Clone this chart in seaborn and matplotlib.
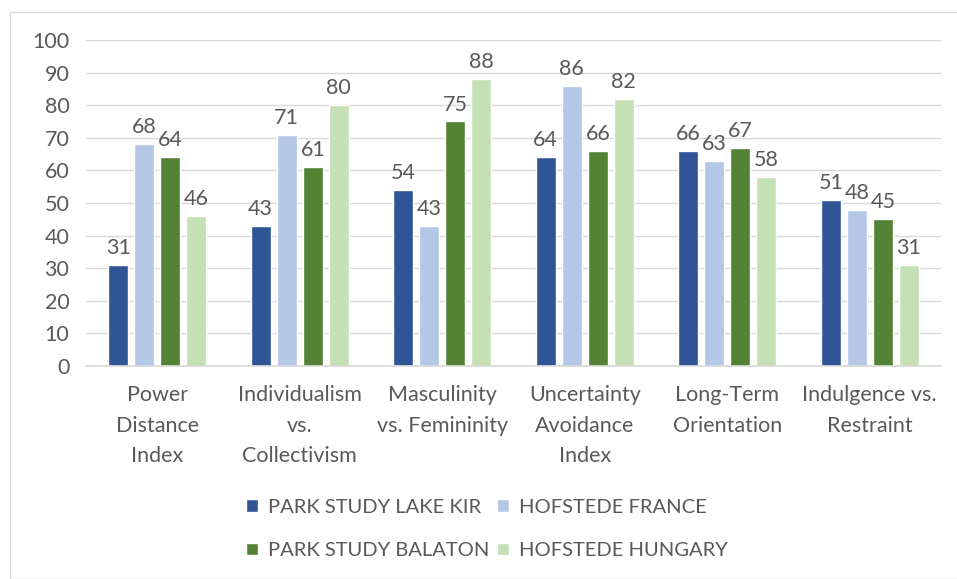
import matplotlib
matplotlib.use("Agg")
import matplotlib.pyplot as plt
import seaborn as sns
import pandas as pd
from matplotlib.patches import Rectangle

categories = ["Power\nDistance\nIndex", "Individualism\nvs.\nCollectivism",
              "Masculinity\nvs. Femininity", "Uncertainty\nAvoidance\nIndex",
              "Long-Term\nOrientation", "Indulgence vs.\nRestraint"]
series_names = ["PARK STUDY LAKE KIR", "HOFSTEDE FRANCE",
                "PARK STUDY BALATON", "HOFSTEDE HUNGARY"]
lake_kir = [31, 43, 54, 64, 66, 51]
france = [68, 71, 43, 86, 63, 48]
balaton = [64, 61, 75, 66, 67, 45]
hungary = [46, 80, 88, 82, 58, 31]
colors = ["#2F5597", "#B4C7E7", "#548235", "#C5E0B4"]
yticks = list(range(0, 101, 10))

rows = []
for name, vals in zip(series_names, [lake_kir, france, balaton, hungary]):
    for c, v in zip(categories, vals):
        rows.append({"cat": c, "series": name, "value": v})
df = pd.DataFrame(rows)

sns.set_theme(style="white")
plt.rcParams['font.family'] = ['Lato', 'DejaVu Sans']
txt = "#595959"
fs = 15.5

fig = plt.figure(figsize=(9.57, 5.79), dpi=100)
ax = fig.add_axes([86/957, 1-366/579, (941-86)/957, (366-40)/579])
sns.barplot(data=df, x="cat", y="value", hue="series", order=categories,
            hue_order=series_names, palette=colors, width=0.73, gap=0.23,
            saturation=1, ax=ax, legend=True, errorbar=None)

for cont in ax.containers:
    ax.bar_label(cont, padding=5, fontsize=fs, color=txt)

ax.set_ylim(0, 100)
ax.set_yticks(yticks)
ax.set_xlim(-0.5, len(categories) - 0.5)
ax.grid(axis="y", color="#D9D9D9", linewidth=1)
ax.set_axisbelow(True)
for s in ["left", "right", "top"]:
    ax.spines[s].set_visible(False)
ax.spines["bottom"].set_color("#D9D9D9")
ax.tick_params(axis="both", length=0, labelsize=fs, colors=txt)
ax.tick_params(axis="x", pad=14)
ax.tick_params(axis="y", pad=12)
ax.set_xlabel("")
ax.set_ylabel("")
for lab in ax.get_xticklabels():
    lab.set_linespacing(1.65)

h, l = ax.get_legend_handles_labels()
ax.get_legend().remove()
order = [0, 2, 1, 3]
leg = fig.legend([h[i] for i in order], [l[i] for i in order], loc="center",
                 bbox_to_anchor=(487/957, 1-529/579), ncol=2,
                 frameon=False, fontsize=14.5, handlelength=0.6, handleheight=0.6,
                 handletextpad=0.5, columnspacing=0.4, labelspacing=1.3)
for t in leg.get_texts():
    t.set_color(txt)

fig.patches.append(Rectangle((10/957, 0), 1.0, 1-12/579, transform=fig.transFigure,
                             fill=False, edgecolor="#D9D9D9", linewidth=1))

fig.savefig("out.png", dpi=100, facecolor="white")
